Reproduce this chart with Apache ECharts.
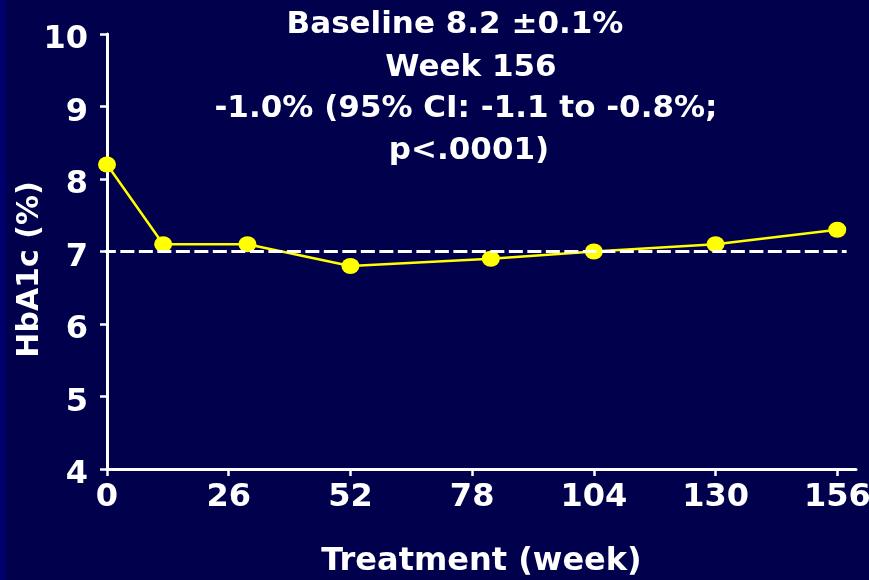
<!DOCTYPE html>
<html>
<head>
<meta charset="utf-8">
<script src="https://cdn.jsdelivr.net/npm/echarts@6/dist/echarts.min.js"></script>
<style>
  html, body { margin: 0; padding: 0; background: #00004c; }
  #chart { width: 869px; height: 580px; }
</style>
</head>
<body>
<div id="chart"></div>
<script>
// HbA1c over three years of treatment
const weeks = [0, 12, 30, 52, 82, 104, 130, 156];
const hba1c = [8.2, 7.1, 7.1, 6.8, 6.9, 7.0, 7.1, 7.3];
const weekTicks = [0, 26, 52, 78, 104, 130, 156];
const targetLevel = 7;
const targetSpan = [-1.1, 158];
const titleLines = [
  'Baseline 8.2 \u00b10.1%',
  'Week 156',
  '-1.0% (95% CI: -1.1 to -0.8%;',
  'p<.0001)'
];
// horizontal centre and top of each heading line
const titleCenters = [455, 471, 466, 469];
const titleTops = [7, 49.5, 91, 133];

const FONT = "'DejaVu Sans', 'Liberation Sans', Arial, sans-serif";
const WHITE = '#ffffff';

const chart = echarts.init(document.getElementById('chart'), null, { renderer: 'canvas' });

chart.setOption({
  animation: false,
  backgroundColor: '#00004c',
  textStyle: { fontFamily: FONT },
  graphic: [{
    type: 'rect',
    left: 0, top: 0,
    shape: { width: 6, height: 580 },
    style: { fill: '#00006c' },
    silent: true
  }],
  title: titleLines.map((line, i) => ({
    text: line,
    left: titleCenters[i],
    top: titleTops[i],
    textAlign: 'center',
    padding: 0,
    textStyle: {
      color: WHITE,
      fontFamily: FONT,
      fontWeight: 'bold',
      fontSize: 31,
      lineHeight: 36
    }
  })),
  grid: {
    left: 107, right: 13, top: 34, bottom: 111,
    containLabel: false,
    outerBoundsMode: 'none'
  },
  xAxis: {
    type: 'value',
    min: 0,
    max: 160,
    name: 'Treatment (week)',
    nameLocation: 'middle',
    nameGap: 77,
    nameMoveOverlap: false,
    nameTextStyle: { color: WHITE, fontFamily: FONT, fontWeight: 'bold', fontSize: 32 },
    axisLine: { show: true, onZero: false, lineStyle: { color: WHITE, width: 3 } },
    axisTick: { show: true, inside: false, length: 7, customValues: weekTicks, lineStyle: { color: WHITE, width: 2.5 } },
    axisLabel: { customValues: weekTicks, color: WHITE, fontFamily: FONT, fontWeight: 'bold', fontSize: 32, margin: 13 },
    splitLine: { show: false }
  },
  yAxis: {
    type: 'value',
    min: 4,
    max: 10,
    interval: 1,
    name: 'HbA1c (%)',
    nameLocation: 'middle',
    nameRotate: 90,
    nameGap: 62,
    nameMoveOverlap: false,
    nameTextStyle: { color: WHITE, fontFamily: FONT, fontWeight: 'bold', fontSize: 30, padding: [0, 36, 0, 0] },
    axisLine: { show: true, onZero: false, lineStyle: { color: WHITE, width: 3 } },
    axisTick: { show: true, inside: false, length: 7, lineStyle: { color: WHITE, width: 2.5 } },
    axisLabel: {
      color: WHITE, fontFamily: FONT, fontWeight: 'bold', fontSize: 32,
      margin: 19, verticalAlign: 'top', lineHeight: 12
    },
    splitLine: { show: false }
  },
  series: [
    {
      name: 'HbA1c',
      type: 'line',
      data: weeks.map((w, i) => [w, hba1c[i]]),
      symbol: 'circle',
      symbolSize: [18, 16],
      lineStyle: { color: '#ffff00', width: 2.5 },
      itemStyle: { color: '#ffff00' },
      z: 3
    },
    {
      name: 'Target',
      type: 'line',
      data: targetSpan.map(w => [w, targetLevel]),
      symbol: 'none',
      clip: false,
      silent: true,
      lineStyle: { color: WHITE, width: 3, type: [14, 4.5] },
      z: 4
    }
  ]
});
</script>
</body>
</html>
